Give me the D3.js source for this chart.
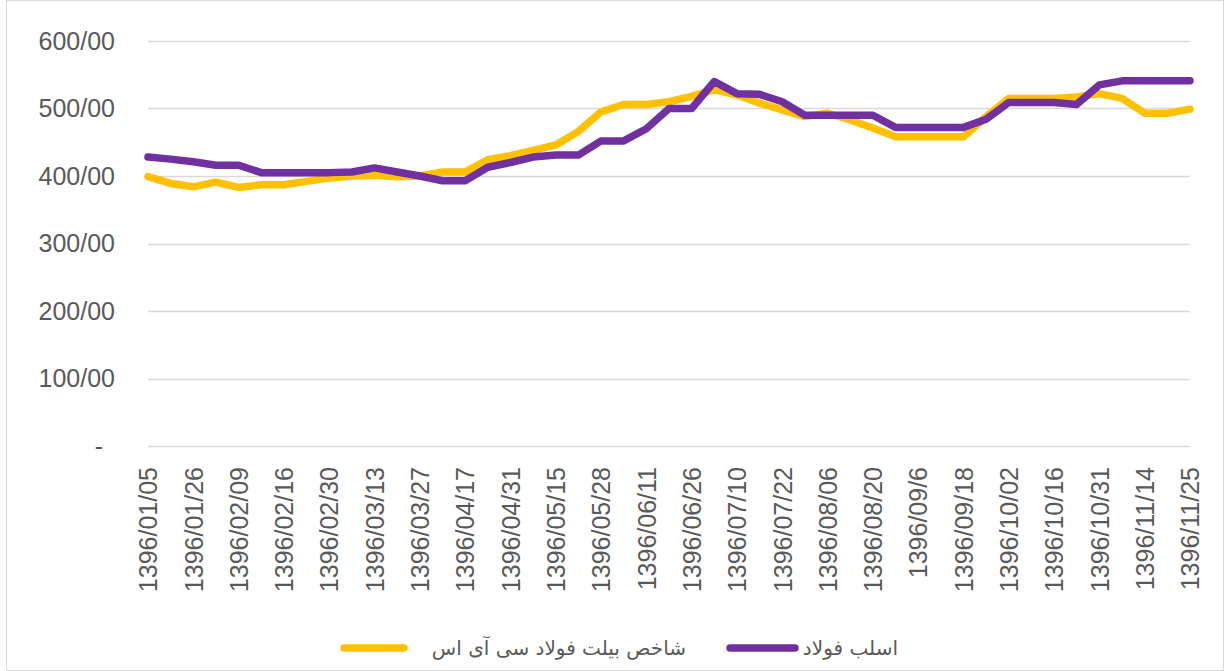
<!DOCTYPE html>
<html>
<head>
<meta charset="utf-8">
<script src="https://cdn.jsdelivr.net/npm/d3@7"></script>
<style>
  html, body { margin: 0; padding: 0; background: #fff; }
  svg { display: block; }
</style>
</head>
<body>
<svg id="chart" width="1225" height="671"></svg>
<script>
// ---- data ----
const tickLabels = ["1396/01/05","1396/01/26","1396/02/09","1396/02/16","1396/02/30","1396/03/13",
  "1396/03/27","1396/04/17","1396/04/31","1396/05/15","1396/05/28","1396/06/11","1396/06/26",
  "1396/07/10","1396/07/22","1396/08/06","1396/08/20","1396/09/6","1396/09/18","1396/10/02",
  "1396/10/16","1396/10/31","1396/11/14","1396/11/25"];
// 47 weekly observations; every second one carries a date label
const yTicks = [0, 100, 200, 300, 400, 500, 600];
const seriesNames = ["شاخص بیلت فولاد سی آی اس", "اسلب فولاد"];
const billetCIS = [399,389,384,391,383,387,387,392,397,400,401,399,400,406,406,424,430,438,446,466,
  495,506,506,510,518,528,520,508,498,488,493,483,471,458,458,458,458,488,515,515,
  515,517,522,515,493,493,499];
const slab = [428,425,421,416,416,405,405,405,405,406,412,406,400,393,393,413,420,428,431,431,
  452,452,470,500,500,540,522,521,510,490,490,490,490,472,472,472,472,484,509,509,
  509,506,535,541,541,541,541];

// ---- chart ----
const svg = d3.select("#chart");
const W = 1225, H = 671;
const colors = ["#FFC000", "#7030A0"];
const font = "'Liberation Sans', Arial, sans-serif";

svg.append("rect").attr("x", 6.5).attr("y", 0.5).attr("width", W - 8).attr("height", H - 1)
  .attr("fill", "#fff").attr("stroke", "#d9d9d9").attr("stroke-width", 1);

const idx = d3.range(billetCIS.length);
const x = d3.scalePoint().domain(idx).range([148, 1190]);
const y = d3.scaleLinear().domain([0, 600]).range([446, 41]);

// gridlines
svg.append("g").selectAll("line").data(yTicks).join("line")
  .attr("x1", 148).attr("x2", 1190)
  .attr("y1", d => Math.round(y(d)) + 0.5).attr("y2", d => Math.round(y(d)) + 0.5)
  .attr("stroke", "#d9d9d9").attr("stroke-width", 1.5);

// y axis labels
const yAxis = d3.axisLeft(y).tickValues(yTicks).tickSize(0)
  .tickFormat(d => d === 0 ? "-" : d3.format("d")(d) + "/00");
const gy = svg.append("g").attr("transform", "translate(115,0)").call(yAxis);
gy.select(".domain").remove();
gy.selectAll("text").attr("font-family", font).attr("font-size", 25).attr("fill", "#595959")
  .attr("x", d => d === 0 ? -12 : 0);

// x axis labels
const labelIdx = idx.filter(i => i % 2 === 0);
const xAxis = d3.axisBottom(x).tickValues(labelIdx).tickSize(0)
  .tickFormat(i => tickLabels[i / 2]);
const gx = svg.append("g").attr("transform", "translate(0,446)").call(xAxis);
gx.select(".domain").remove();
gx.selectAll("text")
  .attr("font-family", font).attr("font-size", 25).attr("fill", "#595959")
  .attr("transform", "rotate(-90)")
  .attr("x", -21).attr("y", 0).attr("dy", "0.35em")
  .attr("text-anchor", "end");

// lines
const line = d3.line().x((d, i) => x(i)).y(d => y(d)).curve(d3.curveLinear);
[billetCIS, slab].forEach((s, k) => {
  svg.append("path").datum(s).attr("d", line)
    .attr("fill", "none").attr("stroke", colors[k]).attr("stroke-width", 7.5)
    .attr("stroke-linejoin", "round").attr("stroke-linecap", "round");
});

// legend
const legendItems = [
  { name: seriesNames[0], color: colors[0], x1: 344, x2: 404, tx: 686 },
  { name: seriesNames[1], color: colors[1], x1: 730, x2: 795, tx: 898 }
];
const lg = svg.append("g");
legendItems.forEach(it => {
  lg.append("line").attr("x1", it.x1).attr("x2", it.x2).attr("y1", 648).attr("y2", 648)
    .attr("stroke", it.color).attr("stroke-width", 7.5).attr("stroke-linecap", "round");
  lg.append("text").attr("x", it.tx).attr("y", 655)
    .attr("text-anchor", "end").attr("direction", "ltr")
    .attr("font-family", "'DejaVu Sans', 'Noto Sans', sans-serif").attr("font-size", 20)
    .attr("fill", "#595959").text(it.name);
});
</script>
</body>
</html>
